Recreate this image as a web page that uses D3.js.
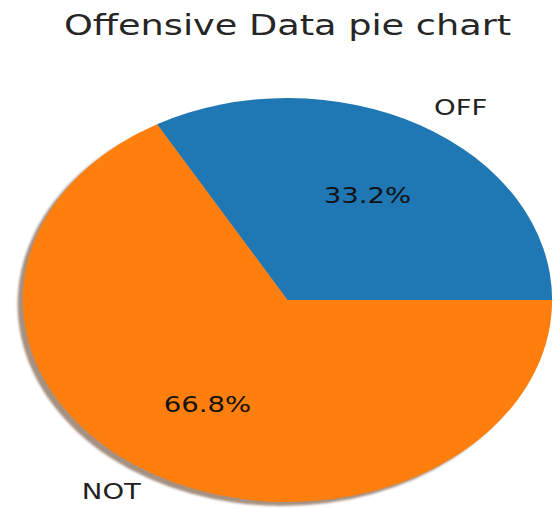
<!DOCTYPE html>
<html>
<head>
<meta charset="utf-8">
<script src="https://cdn.jsdelivr.net/npm/d3@7"></script>
<style>
  body { margin: 0; background: #fff; }
  text { font-family: "DejaVu Sans", sans-serif; }
</style>
</head>
<body>
<script>
// pie data
var labels = ["OFF", "NOT"];
var values = [33.2, 66.8];
var colors = ["#1f77b4", "#ff7f0e"];

var width = 556,
    height = 508;

// the picture is stretched sideways, so draw a circle and scale the group
var r = 202,
    stretch = 1.31,
    cx = 287.5,
    cy = 300;

var svg = d3.select("body").append("svg")
    .attr("width", width)
    .attr("height", height);

var defs = svg.append("defs");
defs.append("filter").attr("id", "soft")
    .append("feGaussianBlur").attr("stdDeviation", 0.8);

var g = svg.append("g")
    .attr("transform", "translate(" + cx + "," + cy + ") scale(" + stretch + ",1)");

// start at 3 o'clock and go counter-clockwise, like matplotlib
var pie = d3.pie()
    .sort(null)
    .startAngle(Math.PI / 2)
    .endAngle(Math.PI / 2 - 2 * Math.PI);

var arcs = pie(values);

var arc = d3.arc().innerRadius(0).outerRadius(r);
var labelArc = d3.arc().innerRadius(r * 1.1).outerRadius(r * 1.1);
var pctArc = d3.arc().innerRadius(r * 0.6).outerRadius(r * 0.6);

// shadow
g.append("g")
    .attr("transform", "translate(" + (-0.02 * r) + "," + (0.02 * r) + ")")
    .attr("filter", "url(#soft)")
    .selectAll("path")
    .data(arcs)
    .enter().append("path")
    .attr("d", arc)
    .style("fill", function(d, i) {
        var c = d3.rgb(colors[i]);
        return d3.rgb(c.r * 0.3, c.g * 0.3, c.b * 0.3);
    })
    .style("opacity", 0.5);

// wedges
g.append("g")
    .selectAll("path")
    .data(arcs)
    .enter().append("path")
    .attr("d", arc)
    .style("fill", function(d, i) { return colors[i]; });

// outer labels
g.append("g")
    .selectAll("text")
    .data(arcs)
    .enter().append("text")
    .attr("transform", function(d) { return "translate(" + labelArc.centroid(d) + ")"; })
    .attr("dy", "0.35em")
    .attr("text-anchor", function(d) { return labelArc.centroid(d)[0] > 0 ? "start" : "end"; })
    .style("font-size", "21px")
    .style("fill", "#222")
    .text(function(d, i) { return labels[i]; });

// percentages
g.append("g")
    .selectAll("text")
    .data(arcs)
    .enter().append("text")
    .attr("transform", function(d) { return "translate(" + pctArc.centroid(d) + ")"; })
    .attr("dy", "0.35em")
    .attr("text-anchor", "middle")
    .style("font-size", "21px")
    .style("fill", "#111")
    .text(function(d) { return d.data.toFixed(1) + "%"; });

// title
g.append("text")
    .attr("x", 0)
    .attr("y", 35 - cy)
    .attr("text-anchor", "middle")
    .style("font-size", "28px")
    .style("fill", "#262626")
    .text("Offensive Data pie chart");
</script>
</body>
</html>
